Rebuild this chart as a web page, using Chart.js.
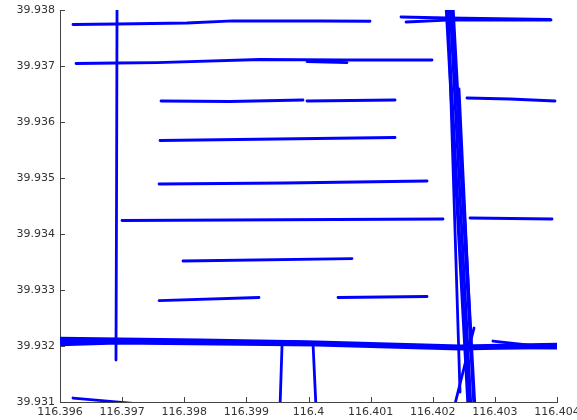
<!DOCTYPE html>
<html>
<head>
<meta charset="utf-8">
<script src="https://cdn.jsdelivr.net/npm/chart.js@4"></script>
<style>
  body { margin: 0; background: #fff; }
  canvas { display: block; }
</style>
</head>
<body>
<canvas id="trackChart" width="577" height="420"></canvas>
<script>
// ticks (lon / lat)
const xTicks = [116.396, 116.397, 116.398, 116.399, 116.4, 116.401, 116.402, 116.403, 116.404];
const yTicks = [39.931, 39.932, 39.933, 39.934, 39.935, 39.936, 39.937, 39.938];

// GPS tracks, [lon, lat]
const trackTop = [[116.396209, 39.937741], [116.396918, 39.937750], [116.398044, 39.937768], [116.398785, 39.937804], [116.400185, 39.937804], [116.400990, 39.937799]];
const trackSecond = [[116.396258, 39.937045], [116.396918, 39.937054], [116.397561, 39.937062], [116.399219, 39.937116], [116.400555, 39.937107], [116.401988, 39.937107]];
const trackSecondBit = [[116.399976, 39.937080], [116.400620, 39.937062]];
const trackWestNS = [[116.396918, 39.938089], [116.396910, 39.934607], [116.396901, 39.931750]];
const trackNE1 = [[116.401489, 39.937875], [116.402230, 39.937857], [116.403888, 39.937830]];
const trackNE2 = [[116.401570, 39.937786], [116.402230, 39.937821], [116.403904, 39.937821]];
const trackEastNS1 = [[116.402230, 39.938089], [116.402584, 39.930893]];
const trackEastNS2 = [[116.402278, 39.938089], [116.402616, 39.930893]];
const trackEastNS3 = [[116.402310, 39.938089], [116.402664, 39.930893]];
const trackEastNS4 = [[116.402246, 39.938089], [116.402439, 39.931179]];
const trackEastNS5 = [[116.402423, 39.936589], [116.402616, 39.932018]];
const trackEastNS6 = [[116.402213, 39.938089], [116.402568, 39.930893]];
const trackEastNS7 = [[116.402326, 39.938089], [116.402680, 39.930893]];
const trackEastDiag = [[116.402342, 39.930893], [116.402664, 39.932321]];
const trackEast1 = [[116.402551, 39.936429], [116.403243, 39.936411], [116.403968, 39.936375]];
const trackEast2 = [[116.402600, 39.934286], [116.403920, 39.934268]];
const trackRow1a = [[116.397626, 39.936375], [116.398737, 39.936366], [116.399912, 39.936393]];
const trackRow1b = [[116.399976, 39.936375], [116.401393, 39.936393]];
const trackRow2 = [[116.397610, 39.935670], [116.401393, 39.935723]];
const trackRow3 = [[116.397594, 39.934893], [116.399622, 39.934911], [116.401908, 39.934946]];
const trackRow4 = [[116.396998, 39.934241], [116.402165, 39.934268]];
const trackRow5 = [[116.397980, 39.933518], [116.400700, 39.933562]];
const trackRow6a = [[116.397594, 39.932812], [116.399203, 39.932866]];
const trackRow6b = [[116.400475, 39.932866], [116.401908, 39.932884]];
const trackRoad1 = [[116.395920, 39.932143], [116.398254, 39.932107], [116.400137, 39.932071], [116.402439, 39.932000], [116.404081, 39.932036]];
const trackRoad2 = [[116.395920, 39.932018], [116.396918, 39.932054], [116.400137, 39.932018], [116.402439, 39.931946], [116.404081, 39.931982]];
const trackRoad3 = [[116.395920, 39.932089], [116.399863, 39.932071], [116.402471, 39.931964], [116.404081, 39.932018]];
const trackRoad4 = [[116.402970, 39.932089], [116.403807, 39.931982], [116.404081, 39.932000]];
const trackRoad5 = [[116.395920, 39.932054], [116.398254, 39.932071], [116.401473, 39.932018], [116.402600, 39.931964], [116.404081, 39.932000]];
const trackRoad6 = [[116.395920, 39.932116], [116.396918, 39.932107], [116.400137, 39.932054], [116.402439, 39.931973], [116.404081, 39.931964]];
const trackSouth1 = [[116.399574, 39.932018], [116.399541, 39.930893]];
const trackSouth2 = [[116.400073, 39.932036], [116.400121, 39.930893]];
const trackCorner = [[116.396209, 39.931071], [116.397288, 39.930964]];

const tracks = [
    trackTop, trackSecond, trackSecondBit, trackWestNS, trackNE1, trackNE2,
    trackEastNS1, trackEastNS2, trackEastNS3, trackEastNS4, trackEastNS5, trackEastNS6, trackEastNS7,
    trackEastDiag, trackEast1, trackEast2, trackRow1a, trackRow1b, trackRow2, trackRow3, trackRow4,
    trackRow5, trackRow6a, trackRow6b, trackRoad1, trackRoad2, trackRoad3, trackRoad4, trackRoad5, trackRoad6,
    trackSouth1, trackSouth2, trackCorner
];

const axisColor = '#444444';
const labelColor = '#333333';

function fmt(v) {
    return parseFloat(Number(v).toFixed(3)).toString();
}

// ticks drawn inside the plot, like the original
const innerTicks = {
    id: 'innerTicks',
    afterDraw(chart) {
        const ctx = chart.ctx;
        const area = chart.chartArea;
        const xs = chart.scales.x;
        const ys = chart.scales.y;
        ctx.save();
        ctx.strokeStyle = axisColor;
        ctx.lineWidth = 1;
        ctx.beginPath();
        xTicks.forEach(v => {
            const px = Math.round(xs.getPixelForValue(v)) + 0.5;
            ctx.moveTo(px, area.bottom);
            ctx.lineTo(px, area.bottom - 5);
        });
        yTicks.forEach(v => {
            const py = Math.round(ys.getPixelForValue(v)) + 0.5;
            ctx.moveTo(area.left, py);
            ctx.lineTo(area.left + 5, py);
        });
        ctx.stroke();
        ctx.restore();
    }
};

const ctx = document.getElementById('trackChart').getContext('2d');

new Chart(ctx, {
    type: 'scatter',
    data: {
        datasets: tracks.map(t => ({
            data: t.map(p => ({ x: p[0], y: p[1] })),
            showLine: true,
            borderColor: '#0000ff',
            borderWidth: 2.8,
            borderCapStyle: 'round',
            borderJoinStyle: 'round',
            pointRadius: 0,
            pointHoverRadius: 0,
            tension: 0
        }))
    },
    options: {
        responsive: false,
        animation: false,
        layout: { padding: { top: 10, right: 20, left: 0, bottom: 0 } },
        plugins: {
            legend: { display: false },
            tooltip: { enabled: false }
        },
        scales: {
            x: {
                type: 'linear',
                min: 116.396,
                max: 116.404,
                afterBuildTicks: s => { s.ticks = xTicks.map(v => ({ value: v })); },
                afterFit: s => { s.height = 18; s.paddingLeft = 0; s.paddingRight = 0; },
                grid: { display: false, drawTicks: false },
                border: { display: true, color: axisColor, width: 1 },
                ticks: {
                    padding: 4,
                    maxRotation: 0,
                    autoSkip: false,
                    color: labelColor,
                    font: { family: 'DejaVu Sans', size: 11 },
                    callback: v => fmt(v)
                }
            },
            y: {
                type: 'linear',
                min: 39.931,
                max: 39.938,
                afterBuildTicks: s => { s.ticks = yTicks.map(v => ({ value: v })); },
                afterFit: s => { s.width = 60; s.paddingTop = 0; s.paddingBottom = 0; },
                grid: { display: false, drawTicks: false },
                border: { display: true, color: axisColor, width: 1 },
                ticks: {
                    padding: 5,
                    autoSkip: false,
                    color: labelColor,
                    font: { family: 'DejaVu Sans', size: 11 },
                    callback: v => fmt(v)
                }
            }
        }
    },
    plugins: [innerTicks]
});
</script>
</body>
</html>
